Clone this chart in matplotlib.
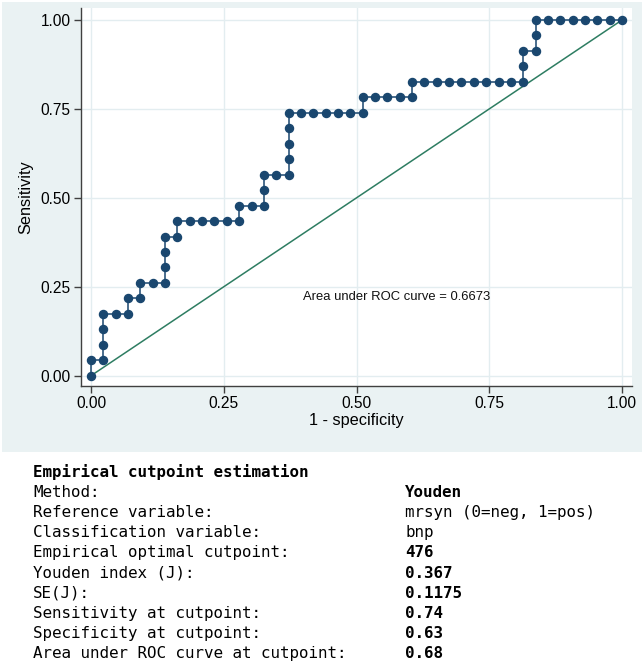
import matplotlib
matplotlib.use("Agg")
import matplotlib.pyplot as plt
from matplotlib.patches import Rectangle

# ROC points as counts (false positives out of 43 negatives, true positives out of 23 positives)
n_neg = 43
n_pos = 23
fp_counts = [0, 0, 1, 1, 1, 1, 2, 3, 3, 4, 4, 5, 6, 6, 6, 6, 7, 7, 8, 9, 10, 11, 12, 12,
             13, 14, 14, 14, 15, 16, 16, 16, 16, 16, 17, 18, 19, 20, 21, 22, 22, 23, 24,
             25, 26, 26, 27, 28, 29, 30, 31, 32, 33, 34, 35, 35, 35, 36, 36, 36, 37, 38,
             39, 40, 41, 42, 43]
tp_counts = [0, 1, 1, 2, 3, 4, 4, 4, 5, 5, 6, 6, 6, 7, 8, 9, 9, 10, 10, 10, 10, 10, 10, 11,
             11, 11, 12, 13, 13, 13, 14, 15, 16, 17, 17, 17, 17, 17, 17, 17, 18, 18, 18,
             18, 18, 19, 19, 19, 19, 19, 19, 19, 19, 19, 19, 20, 21, 21, 22, 23, 23, 23,
             23, 23, 23, 23, 23]
fpr = [c / n_neg for c in fp_counts]
tpr = [c / n_pos for c in tp_counts]

ticks = [0.0, 0.25, 0.5, 0.75, 1.0]
tick_labels = ["0.00", "0.25", "0.50", "0.75", "1.00"]
auc_text = "Area under ROC curve = 0.6673"

table_title = "Empirical cutpoint estimation"
table_labels = ["Method:", "Reference variable:", "Classification variable:",
                "Empirical optimal cutpoint:", "Youden index (J):", "SE(J):",
                "Sensitivity at cutpoint:", "Specificity at cutpoint:",
                "Area under ROC curve at cutpoint:"]
table_values = ["Youden", "mrsyn (0=neg, 1=pos)", "bnp", "476", "0.367", "0.1175",
                "0.74", "0.63", "0.68"]
table_bold = [True, False, False, True, True, True, True, True, True]

W, H = 644, 666
fig = plt.figure(figsize=(W / 100, H / 100), dpi=100)
fig.patch.set_facecolor("white")

bg = "#EAF2F3"
fig.patches.append(Rectangle((2 / W, 1 - 452 / H), 640 / W, 450 / H,
                             transform=fig.transFigure, facecolor=bg,
                             edgecolor="none", zorder=-10))

ax = fig.add_axes([81 / W, 1 - 386 / H, 551 / W, 378 / H])
ax.set_zorder(5)
ax.set_facecolor("white")
ax.set_xlim(-10 / 531, 1 + 10 / 531)
ax.set_ylim(-10.3 / 355.7, 1 + 12 / 355.7)

for s in ["top", "right"]:
    ax.spines[s].set_visible(False)
for s in ["left", "bottom"]:
    ax.spines[s].set_color("#404040")
    ax.spines[s].set_linewidth(1.0)

ax.set_xticks(ticks)
ax.set_xticklabels(tick_labels)
ax.set_yticks(ticks)
ax.set_yticklabels(tick_labels)
ax.tick_params(axis="both", direction="out", length=5, width=1.0, color="#404040",
               labelsize=11.2, pad=2.5)
for lab in ax.get_xticklabels() + ax.get_yticklabels():
    lab.set_family("Liberation Sans")
ax.grid(True, color="#E3EDF0", linewidth=1.0)
ax.set_axisbelow(True)

ax.plot([0, 1], [0, 1], color="#2E7D62", linewidth=1.1, zorder=2)
ax.plot(fpr, tpr, color="#1A476F", linewidth=1.1, marker="o", markersize=5.8,
        markerfacecolor="#1A476F", markeredgecolor="#1A476F", zorder=3)

ax.text(0.399, 0.221, auc_text, fontsize=9.4, family="Liberation Sans",
        ha="left", va="center", color="#111111")

ax.set_ylabel("Sensitivity", fontsize=11.7, family="Liberation Sans", labelpad=5)
ax.set_xlabel("1 - specificity", fontsize=11.7, family="Liberation Sans", labelpad=1)

mono = "DejaVu Sans Mono"
fs = 11.4
y0 = 472
dy = 20.2
x_lab = 33
x_val = 405
fig.text(x_lab / W, 1 - y0 / H, table_title, fontsize=fs, family=mono,
         fontweight="bold", va="center", ha="left")
for i, (lab, val, b) in enumerate(zip(table_labels, table_values, table_bold)):
    yy = 1 - (y0 + dy * (i + 1)) / H
    fig.text(x_lab / W, yy, lab, fontsize=fs, family=mono, va="center", ha="left")
    fig.text(x_val / W, yy, val, fontsize=fs, family=mono, va="center", ha="left",
             fontweight="bold" if b else "normal")

fig.savefig("out.png", dpi=100)
